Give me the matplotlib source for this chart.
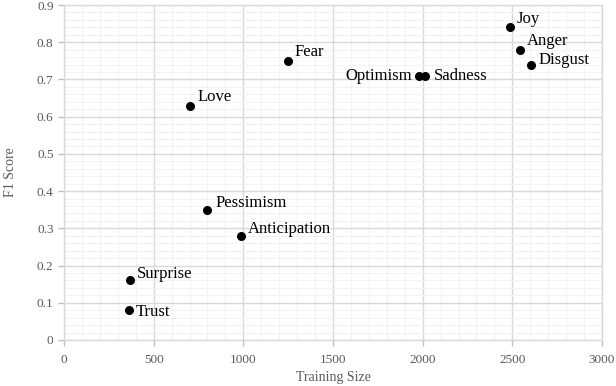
import matplotlib
matplotlib.use("Agg")
import matplotlib.pyplot as plt
from matplotlib.ticker import MultipleLocator

labels = ["Joy", "Anger", "Disgust", "Optimism", "Sadness", "Fear", "Love",
          "Pessimism", "Anticipation", "Surprise", "Trust"]
train_size = [2487, 2541, 2606, 1982, 2014, 1247, 704, 799, 985, 368, 361]
f1_score = [0.84, 0.78, 0.74, 0.71, 0.71, 0.75, 0.63, 0.35, 0.28, 0.16, 0.08]

# label offsets in points (layout only)
offsets = {
    "Joy": (5, 6, "left"), "Anger": (5, 6, "left"), "Disgust": (5, 3, "left"),
    "Optimism": (-5, 0, "right"), "Sadness": (6, 0, "left"), "Fear": (5, 6, "left"),
    "Love": (5, 6, "left"), "Pessimism": (6, 5, "left"),
    "Anticipation": (5, 5, "left"), "Surprise": (5, 5, "left"), "Trust": (5, -1, "left"),
}

plt.rcParams['font.family'] = ['Liberation Serif', 'DejaVu Serif']
fig = plt.figure(figsize=(6.16, 3.86), dpi=100)
ax = fig.add_axes([64/616, 46/386, 538/616, 335/386])

ax.scatter(train_size, f1_score, s=30, color="black", zorder=3)
for lab, x, y in zip(labels, train_size, f1_score):
    dx, dy, ha = offsets[lab]
    ax.annotate(lab, (x, y), xytext=(dx, dy), textcoords="offset points",
                ha=ha, va="center", fontsize=12, color="black", zorder=4)

ax.set_xlim(0, 3000)
ax.set_ylim(0, 0.9)
ax.xaxis.set_major_locator(MultipleLocator(500))
ax.xaxis.set_minor_locator(MultipleLocator(100))
ax.yaxis.set_major_locator(MultipleLocator(0.1))
ax.yaxis.set_minor_locator(MultipleLocator(0.02))
ax.set_yticks([i/10 for i in range(10)])
ax.set_yticklabels(["0"] + [f"{i/10:.1f}" for i in range(1, 10)])

ax.grid(which="major", color="#d9d9d9", linewidth=1.0, zorder=0)
ax.grid(which="minor", color="#f2f2f2", linewidth=0.8, zorder=0)
ax.set_axisbelow(True)
for s in ax.spines.values():
    s.set_color("#d9d9d9")
    s.set_linewidth(1.0)

ax.tick_params(which="major", length=4, color="#bfbfbf", labelcolor="#595959",
               labelsize=9.5, width=1)
ax.tick_params(which="minor", length=0)
ax.tick_params(axis="x", pad=6)
ax.set_xlabel("Training Size", color="#595959", fontsize=10, labelpad=4)
ax.set_ylabel("F1 Score", color="#595959", fontsize=10, labelpad=14)

fig.savefig("out.png", dpi=100)
